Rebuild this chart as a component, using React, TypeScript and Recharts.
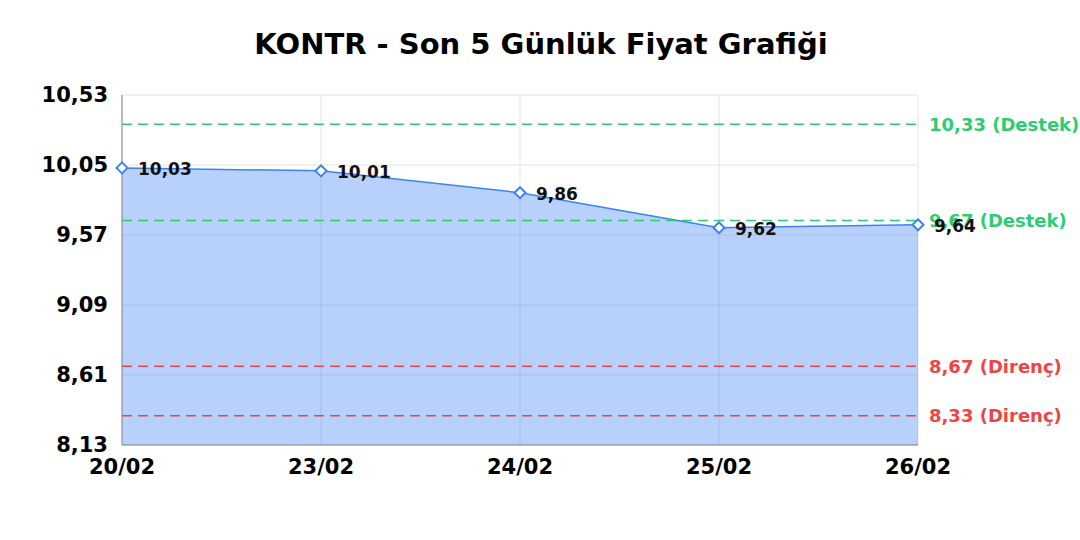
import React from 'react'
import { AreaChart, Area, XAxis, YAxis, CartesianGrid, ReferenceLine, LabelList } from 'recharts'

const dates = ['20/02', '23/02', '24/02', '25/02', '26/02']
const prices = [10.03, 10.01, 9.86, 9.62, 9.64]
const yTicks = [8.13, 8.61, 9.09, 9.57, 10.05, 10.53]
const supportLevels = [10.33, 9.67]
const resistanceLevels = [8.67, 8.33]

const BLUE = '#3b82f6'
const GREEN = '#2ecc71'
const RED = '#ef4444'
const FONT = "'DejaVu Sans', sans-serif"

const fmt = (v: number) => v.toFixed(2).replace('.', ',')

const chartData = dates.map((d, i) => ({ date: d, price: prices[i] }))

// white diamond marker with blue outline
const DiamondDot = (props: any) => {
    const { cx, cy } = props
    if (cx == null || cy == null) return null
    const r = 5.5
    return (
        <path
            d={`M${cx},${cy - r} L${cx + r},${cy} L${cx},${cy + r} L${cx - r},${cy} Z`}
            fill="#fff"
            stroke={BLUE}
            strokeWidth={2}
        />
    )
}

const PriceLabel = (props: any) => {
    const { x, y, value } = props
    return (
        <text x={x + 16} y={y + 1} dy="0.35em" fill="#111" fontSize={17} fontWeight="bold" fontFamily={FONT}>
            {fmt(value)}
        </text>
    )
}

const App = () => {
    return (
        <div style={{ position: 'absolute', top: 0, left: 0, width: 1080, height: 540, background: '#fff', fontFamily: FONT }}>
            <div
                style={{
                    position: 'absolute',
                    top: 27,
                    left: 0,
                    width: 1082,
                    textAlign: 'center',
                    fontSize: 29,
                    lineHeight: '34px',
                    fontWeight: 'bold',
                    color: '#000',
                }}
            >
                KONTR - Son 5 Günlük Fiyat Grafiği
            </div>
            <AreaChart
                width={1080}
                height={540}
                data={chartData}
                margin={{ top: 95, right: 162, bottom: 55, left: 0 }}
                style={{ fontFamily: FONT }}
            >
                <CartesianGrid stroke="#e3e3e3" />
                <XAxis
                    dataKey="date"
                    height={40}
                    stroke="#888"
                    tickLine={false}
                    tickSize={0}
                    tickMargin={14}
                    tick={{ fill: '#000', fontSize: 21, fontWeight: 'bold' }}
                />
                <YAxis
                    width={122}
                    domain={[8.13, 10.53]}
                    ticks={yTicks}
                    tickFormatter={fmt}
                    stroke="#888"
                    tickLine={false}
                    tickSize={0}
                    tickMargin={14}
                    tick={{ fill: '#000', fontSize: 21, fontWeight: 'bold' }}
                />
                {supportLevels.map((v) => (
                    <ReferenceLine
                        key={'s' + v}
                        y={v}
                        stroke={GREEN}
                        strokeWidth={1.5}
                        strokeDasharray="10 6"
                        label={{ value: `${fmt(v)} (Destek)`, position: 'right', offset: 11, fill: GREEN, fontSize: 18, fontWeight: 'bold' }}
                    />
                ))}
                {resistanceLevels.map((v) => (
                    <ReferenceLine
                        key={'r' + v}
                        y={v}
                        stroke={RED}
                        strokeWidth={1.5}
                        strokeDasharray="10 6"
                        label={{ value: `${fmt(v)} (Direnç)`, position: 'right', offset: 11, fill: RED, fontSize: 18, fontWeight: 'bold' }}
                    />
                ))}
                <Area
                    type="linear"
                    dataKey="price"
                    stroke={BLUE}
                    strokeWidth={1.5}
                    fill={BLUE}
                    fillOpacity={0.37}
                    dot={<DiamondDot />}
                    activeDot={false}
                    isAnimationActive={false}
                >
                    <LabelList dataKey="price" content={<PriceLabel />} />
                </Area>
            </AreaChart>
        </div>
    )
}

export default App
